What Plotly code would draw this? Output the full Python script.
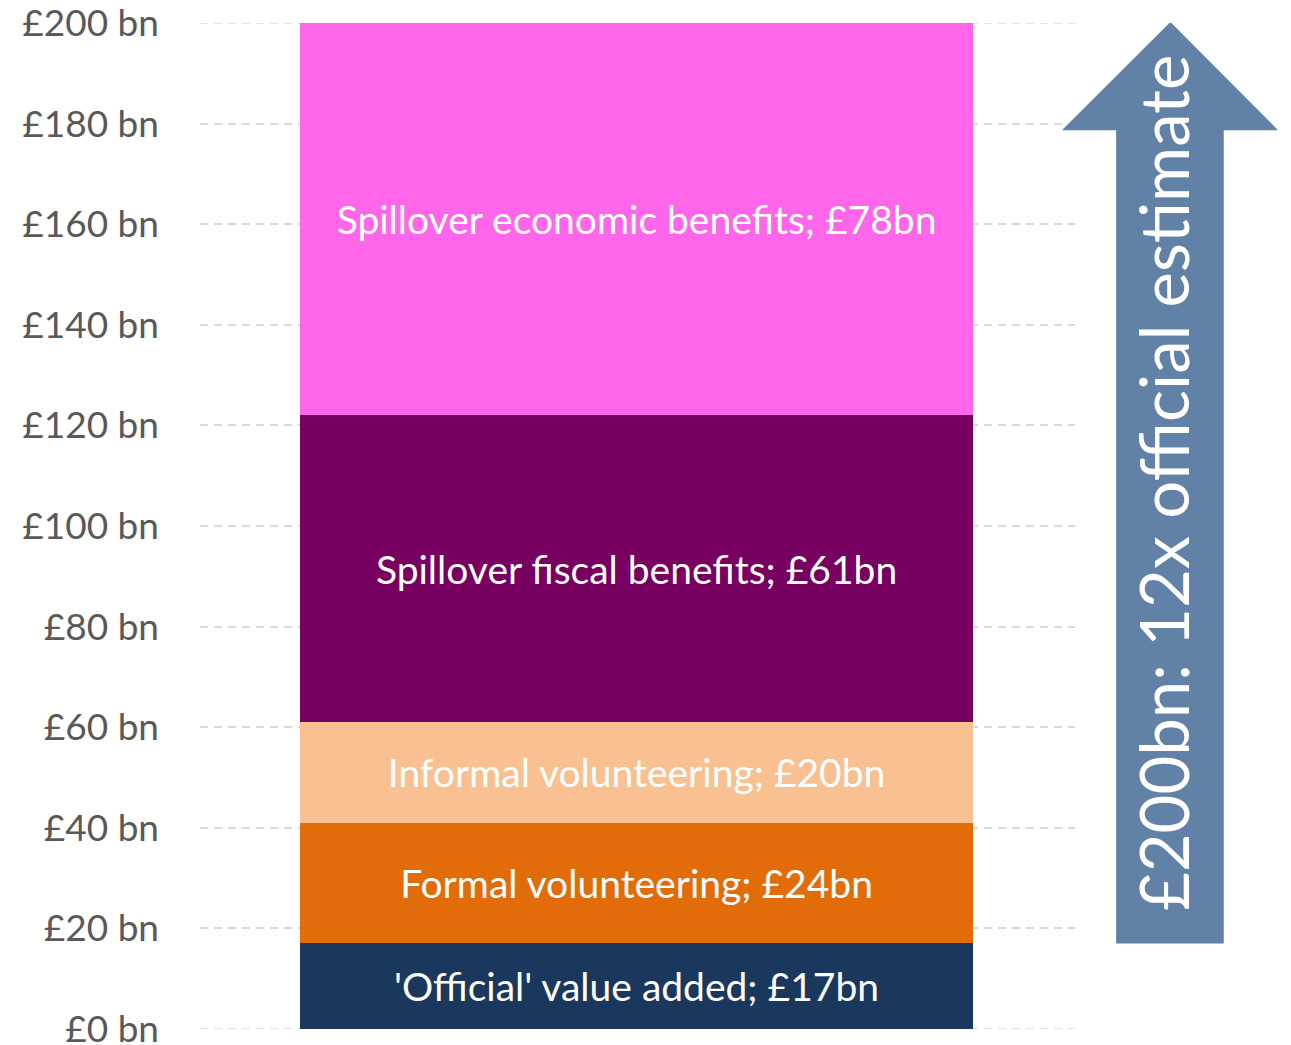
import plotly.graph_objects as go

categories = ["'Official' value added", "Formal volunteering", "Informal volunteering",
              "Spillover fiscal benefits", "Spillover economic benefits"]
values = [17, 24, 20, 61, 78]
colors = ["#1A375E", "#E36C0A", "#F9C191", "#770060", "#FF66EA"]
tick_vals = [0, 20, 40, 60, 80, 100, 120, 140, 160, 180, 200]
arrow_text = "£200bn: 12x official estimate"

FONT = "Lato, Carlito, Calibri, sans-serif"
GRID = "#D9D9D9"

fig = go.Figure()
for cat, val, col in zip(categories, values, colors):
    fig.add_trace(go.Bar(
        x=[0], y=[val], name=cat, marker=dict(color=col, line=dict(width=0)),
        width=0.769,
        text=[f"{cat}; £{val}bn"], textposition="inside", insidetextanchor="middle",
        textfont=dict(family=FONT, size=39, color="white"),
        hoverinfo="skip", showlegend=False,
    ))

# edge gridlines (Plotly omits gridlines at the range ends)
for yv in (tick_vals[0], tick_vals[-1]):
    fig.add_shape(type="line", xref="paper", yref="y", x0=0, x1=1, y0=yv, y1=yv,
                  line=dict(color=GRID, width=1.5, dash="8px,6px"), layer="below")

total = sum(values)
# arrow shape (paper x, data y)
x_l, x_sl, x_sr, x_r, x_c = 0.985, 1.047, 1.170, 1.232, 1.109
y_tip, y_head, y_bot = total + 0.2, 178.7, values[0]
fig.add_shape(type="path", xref="paper", yref="y",
              path=(f"M {x_c} {y_tip} L {x_r} {y_head} L {x_sr} {y_head} L {x_sr} {y_bot} "
                    f"L {x_sl} {y_bot} L {x_sl} {y_head} L {x_l} {y_head} Z"),
              fillcolor="#6281A6", line=dict(width=0), layer="above")
fig.add_annotation(xref="paper", yref="y", x=x_c, y=108.6, xshift=34, text=arrow_text,
                   textangle=-90, showarrow=False,
                   font=dict(family=FONT, size=67, color="white"))

fig.update_layout(
    barmode="stack", width=1291, height=1045,
    margin=dict(l=200, r=216, t=23, b=16, autoexpand=False),
    paper_bgcolor="white", plot_bgcolor="white",
    font=dict(family=FONT),
    xaxis=dict(range=[-0.4989, 0.5011], visible=False, fixedrange=True),
    yaxis=dict(range=[0, 200], tickvals=tick_vals,
               ticktext=[f"£{v} bn" for v in tick_vals],
               tickfont=dict(family=FONT, size=37, color="#595959"),
               showgrid=True, gridcolor=GRID, gridwidth=1.5, griddash="8px,6px",
               zeroline=False, showline=False, ticks="", ticklabelstandoff=40,
               automargin=False, ticklabeloverflow="allow"),
)
fig.write_html("out.html")
